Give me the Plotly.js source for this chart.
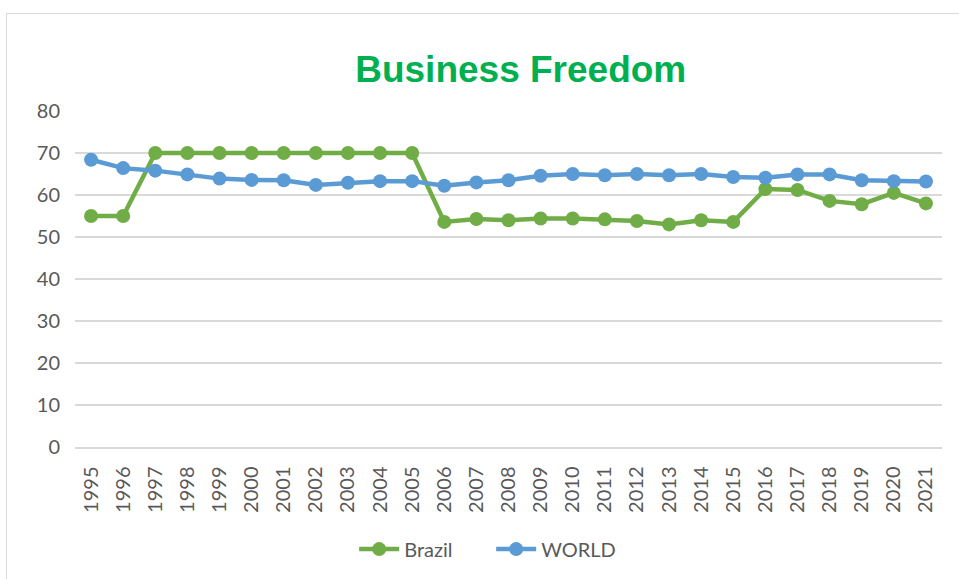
<!DOCTYPE html>
<html>
<head>
<meta charset="utf-8">
<script src="https://cdn.plot.ly/plotly-3.0.1.min.js"></script>
<style>
html,body{margin:0;padding:0;background:#fff;}
#wrap{position:relative;width:959px;height:579px;overflow:hidden;}
#chart{width:959px;height:579px;}
#frame{position:absolute;left:6px;top:13px;width:980px;height:600px;border:1px solid #D9D9D9;pointer-events:none;}
</style>
</head>
<body>
<div id="wrap"><div id="chart"></div><div id="frame"></div></div>
<script>
const years = ["1995","1996","1997","1998","1999","2000","2001","2002","2003","2004","2005","2006","2007","2008","2009","2010","2011","2012","2013","2014","2015","2016","2017","2018","2019","2020","2021"];
const brazil = [55,55,70,70,70,70,70,70,70,70,70,53.6,54.3,54.0,54.4,54.4,54.2,53.8,53.0,54.0,53.6,61.4,61.2,58.6,57.8,60.5,58.0];
const world = [68.4,66.4,65.8,64.9,63.9,63.6,63.5,62.4,62.9,63.3,63.3,62.2,63.0,63.5,64.6,65.0,64.7,65.0,64.7,65.0,64.3,64.1,64.9,64.9,63.5,63.3,63.2];
const yTicks = [0,10,20,30,40,50,60,70,80];

const tickFont = {family: "Lato, 'Liberation Sans', sans-serif", size: 20, color: "#595959"};

const traces = [
  {x: years, y: brazil, name: "Brazil", type: "scatter", mode: "lines+markers",
   line: {color: "#70AD47", width: 4.5}, marker: {color: "#70AD47", size: 14}},
  {x: years, y: world, name: "WORLD", type: "scatter", mode: "lines+markers",
   line: {color: "#5B9BD5", width: 4.5}, marker: {color: "#5B9BD5", size: 14}}
];

const layout = {
  width: 959, height: 579,
  margin: {l: 75, r: 17, t: 111, b: 131},
  paper_bgcolor: "#fff", plot_bgcolor: "#fff",
  title: {text: "<b>Business Freedom</b>", x: 0.543, xref: "container", xanchor: "center",
          y: 0.881, yref: "container", yanchor: "middle",
          font: {family: "'Liberation Sans', Arial, sans-serif", size: 37, color: "#00B050"}},
  xaxis: {type: "category", range: [-0.5, 26.5], tickangle: -90, tickfont: tickFont,
          showgrid: false, showline: true, linecolor: "#D9D9D9", linewidth: 1.5, ticks: "", zeroline: false,
          ticklabelstandoff: 10, fixedrange: true},
  yaxis: {range: [0, 80], tickvals: yTicks, ticktext: yTicks.map(String), tickfont: tickFont,
          showgrid: true, gridcolor: "#D9D9D9", gridwidth: 1.5, zeroline: false, showline: false, ticks: "", ticklen: 0,
          ticklabelstandoff: 14, automargin: false, fixedrange: true},
  showlegend: true,
  legend: {orientation: "h", x: 0.322, xanchor: "left", y: -0.30, yanchor: "middle",
           font: {family: "Lato, 'Liberation Sans', sans-serif", size: 20, color: "#595959"},
           itemwidth: 40, entrywidth: 82, entrywidthmode: "pixels", tracegroupgap: 0}
};

Plotly.newPlot("chart", traces, layout, {displayModeBar: false, staticPlot: true});
</script>
</body>
</html>
